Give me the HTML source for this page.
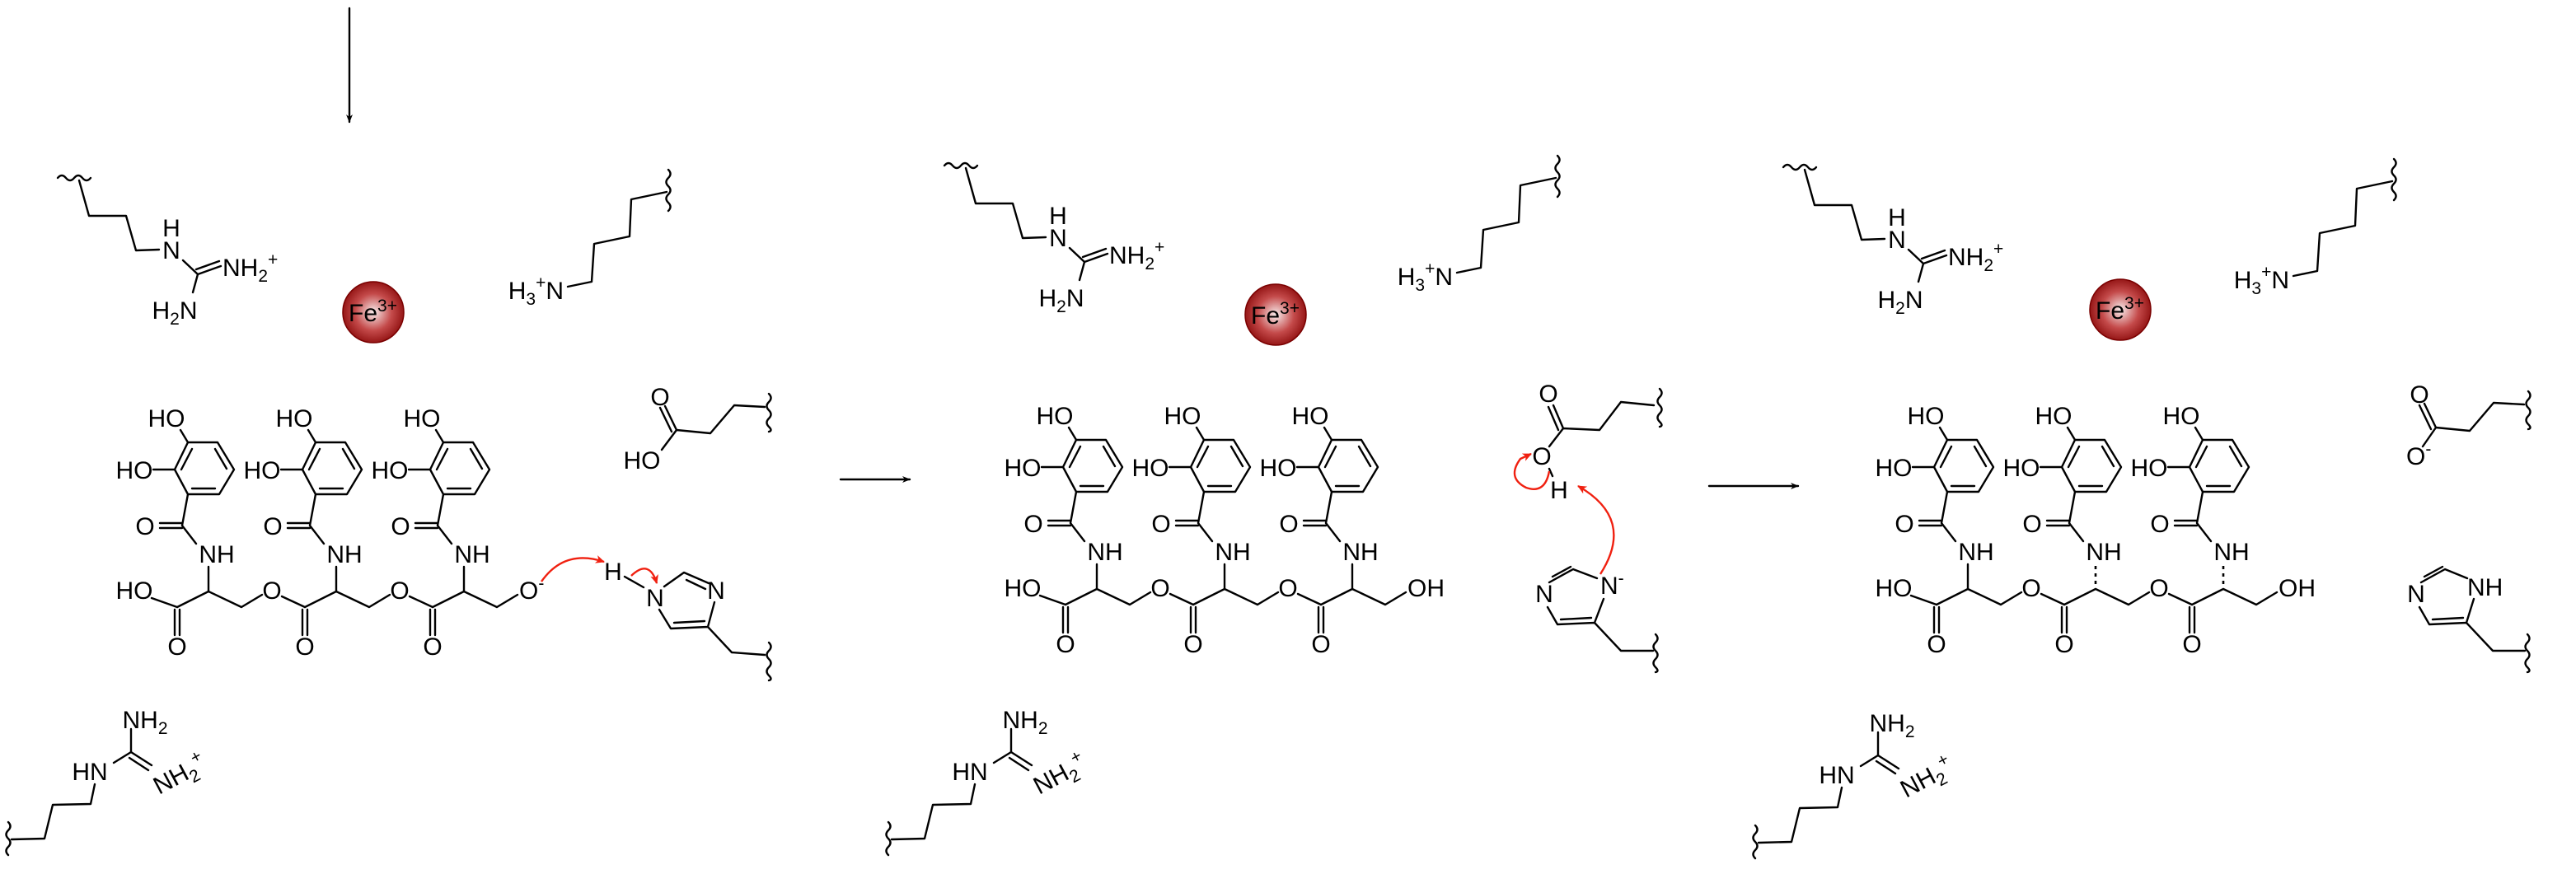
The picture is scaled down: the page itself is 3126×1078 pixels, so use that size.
<!DOCTYPE html>
<html><head><meta charset="utf-8"><style>
html,body{margin:0;padding:0;background:#fff;}
svg{display:block;}
text{font-family:"Liberation Sans",Arial,sans-serif;font-size:30px;fill:#000;}
.b{fill:none;stroke:#000;stroke-width:2.4;stroke-linecap:round;stroke-linejoin:round;}
.r{fill:none;stroke:#f02010;stroke-width:2.4;}
</style></head><body>
<svg width="3126" height="1078" viewBox="0 0 3126 1078" xmlns="http://www.w3.org/2000/svg">
<defs>
<radialGradient id="fe" cx="0.5" cy="0.5" r="0.55">
<stop offset="0" stop-color="#f8ecec"/><stop offset="0.55" stop-color="#c44a4a"/><stop offset="1" stop-color="#8a0a0a"/>
</radialGradient>
<marker id="ah" markerWidth="10" markerHeight="10" refX="9" refY="5" orient="auto" markerUnits="userSpaceOnUse"><path d="M0,1 L10,5 L0,9 L3,5 Z" fill="#000"/></marker>
<marker id="rh" markerWidth="12" markerHeight="10" refX="10" refY="5" orient="auto" markerUnits="userSpaceOnUse"><path d="M0,0 L11,5 L0,10 L3,5 Z" fill="#f02010"/></marker>
</defs>

<!-- arrows -->
<path class="b" d="M424,10 L424,148" marker-end="url(#ah)"/>
<path class="b" d="M1020,582 L1104,582" marker-end="url(#ah)"/>
<path class="b" d="M2074,590 L2182,590" marker-end="url(#ah)"/>

<!-- Fe balls -->
<g><circle cx="453" cy="379" r="37" fill="url(#fe)" stroke="#7a0000" stroke-width="1.5"/><text x="423" y="390">Fe<tspan font-size="21" dy="-12">3+</tspan></text></g>
<g><circle cx="1548" cy="382" r="37" fill="url(#fe)" stroke="#7a0000" stroke-width="1.5"/><text x="1518" y="393">Fe<tspan font-size="21" dy="-12">3+</tspan></text></g>
<g><circle cx="2573" cy="376" r="37" fill="url(#fe)" stroke="#7a0000" stroke-width="1.5"/><text x="2543" y="387">Fe<tspan font-size="21" dy="-12">3+</tspan></text></g>

<!-- top guanidines -->
<g transform="translate(0,0)">
<path class="b" d="M70,216 q5,-6 10,0 t10,0 t10,0 t10,0"/>
<path class="b" d="M96,219 L108,262 L153,262 L165,304 L193,303 M222,316 L240,333 M240,333 L268,323 M238,327 L266,317 M240,333 L234,355"/>
<text x="208" y="287" text-anchor="middle">H</text><text x="208" y="314" text-anchor="middle">N</text>
<text x="270" y="335">NH<tspan font-size="21" dy="7">2</tspan><tspan font-size="21" dy="-20">+</tspan></text>
<text x="212" y="387" text-anchor="middle">H<tspan font-size="21" dy="7">2</tspan><tspan dy="-7">N</tspan></text>
</g>
<g transform="translate(1076,-15)">
<path class="b" d="M70,216 q5,-6 10,0 t10,0 t10,0 t10,0"/>
<path class="b" d="M96,219 L108,262 L153,262 L165,304 L193,303 M222,316 L240,333 M240,333 L268,323 M238,327 L266,317 M240,333 L234,355"/>
<text x="208" y="287" text-anchor="middle">H</text><text x="208" y="314" text-anchor="middle">N</text>
<text x="270" y="335">NH<tspan font-size="21" dy="7">2</tspan><tspan font-size="21" dy="-20">+</tspan></text>
<text x="212" y="387" text-anchor="middle">H<tspan font-size="21" dy="7">2</tspan><tspan dy="-7">N</tspan></text>
</g>
<g transform="translate(2094,-13)">
<path class="b" d="M70,216 q5,-6 10,0 t10,0 t10,0 t10,0"/>
<path class="b" d="M96,219 L108,262 L153,262 L165,304 L193,303 M222,316 L240,333 M240,333 L268,323 M238,327 L266,317 M240,333 L234,355"/>
<text x="208" y="287" text-anchor="middle">H</text><text x="208" y="314" text-anchor="middle">N</text>
<text x="270" y="335">NH<tspan font-size="21" dy="7">2</tspan><tspan font-size="21" dy="-20">+</tspan></text>
<text x="212" y="387" text-anchor="middle">H<tspan font-size="21" dy="7">2</tspan><tspan dy="-7">N</tspan></text>
</g>

<!-- lysines -->
<g transform="translate(0,0)">
<path class="b" d="M811,206 q5,5 0,10 t0,10 t0,10 t0,10 t0,10"/>
<path class="b" d="M809,233 L766,242 L764,287 L721,296 L718,342 L689,348"/>
<text x="684" y="363" text-anchor="end">H<tspan font-size="21" dy="7">3</tspan><tspan font-size="21" dy="-20">+</tspan><tspan dy="13">N</tspan></text>
</g>
<g transform="translate(1079,-17)">
<path class="b" d="M811,206 q5,5 0,10 t0,10 t0,10 t0,10 t0,10"/>
<path class="b" d="M809,233 L766,242 L764,287 L721,296 L718,342 L689,348"/>
<text x="684" y="363" text-anchor="end">H<tspan font-size="21" dy="7">3</tspan><tspan font-size="21" dy="-20">+</tspan><tspan dy="13">N</tspan></text>
</g>
<g transform="translate(2094,-13)">
<path class="b" d="M811,206 q5,5 0,10 t0,10 t0,10 t0,10 t0,10"/>
<path class="b" d="M809,233 L766,242 L764,287 L721,296 L718,342 L689,348"/>
<text x="684" y="363" text-anchor="end">H<tspan font-size="21" dy="7">3</tspan><tspan font-size="21" dy="-20">+</tspan><tspan dy="13">N</tspan></text>
</g>

<!-- bottom guanidines -->
<g transform="translate(0,0)">
<path class="b" d="M10,998 q5,5 0,10 t0,10 t0,10 t0,10"/>
<path class="b" d="M14,1019 L54,1018 L64,977 L110,976 L115,952 M138,926 L159,913 L159,885 M159,913 L184,929 M157,920 L180,935"/>
<text x="176" y="884" text-anchor="middle">NH<tspan font-size="21" dy="7">2</tspan></text>
<text x="109" y="947" text-anchor="middle">HN</text>
<text transform="translate(193,965) rotate(-28)">NH<tspan font-size="21" dy="7">2</tspan><tspan font-size="21" dy="-20">+</tspan></text>
</g>
<g transform="translate(1068,0)">
<path class="b" d="M10,998 q5,5 0,10 t0,10 t0,10 t0,10"/>
<path class="b" d="M14,1019 L54,1018 L64,977 L110,976 L115,952 M138,926 L159,913 L159,885 M159,913 L184,929 M157,920 L180,935"/>
<text x="176" y="884" text-anchor="middle">NH<tspan font-size="21" dy="7">2</tspan></text>
<text x="109" y="947" text-anchor="middle">HN</text>
<text transform="translate(193,965) rotate(-28)">NH<tspan font-size="21" dy="7">2</tspan><tspan font-size="21" dy="-20">+</tspan></text>
</g>
<g transform="translate(2120,4)">
<path class="b" d="M10,998 q5,5 0,10 t0,10 t0,10 t0,10"/>
<path class="b" d="M14,1019 L54,1018 L64,977 L110,976 L115,952 M138,926 L159,913 L159,885 M159,913 L184,929 M157,920 L180,935"/>
<text x="176" y="884" text-anchor="middle">NH<tspan font-size="21" dy="7">2</tspan></text>
<text x="109" y="947" text-anchor="middle">HN</text>
<text transform="translate(193,965) rotate(-28)">NH<tspan font-size="21" dy="7">2</tspan><tspan font-size="21" dy="-20">+</tspan></text>
</g>

<!-- MAIN MOLECULE panel 1 -->
<g transform="translate(0,0)">
 <g transform="translate(0,0)">
  <path class="b" d="M228,537 L264,537 L284,570 L266,600 L228,600 L212,570 Z M233,545 L220,570 M261,545 L275,569 M233,593 L261,593 M228,537 L219,522 M186,570 L212,570 M228,600 L221,638 M194,635 L221,635 M194,641 L221,641 M221,638 L238,660 M253,688 L253,718 M253,718 L215,737 M253,718 L293,737 M293,737 L318,722 M212,740 L212,771 M218,740 L218,771 M342,724 L370,737"/>
  <text x="202" y="518" text-anchor="middle">HO</text><text x="163" y="581" text-anchor="middle">HO</text>
  <text x="176" y="649" text-anchor="middle">O</text><text x="263" y="683" text-anchor="middle">NH</text>
  <text x="215" y="795" text-anchor="middle">O</text><text x="330" y="727" text-anchor="middle">O</text>
 </g>
 <g transform="translate(155,0)">
  <path class="b" d="M228,537 L264,537 L284,570 L266,600 L228,600 L212,570 Z M233,545 L220,570 M261,545 L275,569 M233,593 L261,593 M228,537 L219,522 M186,570 L212,570 M228,600 L221,638 M194,635 L221,635 M194,641 L221,641 M221,638 L238,660 M253,688 L253,718 M253,718 L215,737 M253,718 L293,737 M293,737 L318,722 M212,740 L212,771 M218,740 L218,771 M342,724 L370,737"/>
  <text x="202" y="518" text-anchor="middle">HO</text><text x="163" y="581" text-anchor="middle">HO</text>
  <text x="176" y="649" text-anchor="middle">O</text><text x="263" y="683" text-anchor="middle">NH</text>
  <text x="215" y="795" text-anchor="middle">O</text><text x="330" y="727" text-anchor="middle">O</text>
 </g>
 <g transform="translate(310,0)">
  <path class="b" d="M228,537 L264,537 L284,570 L266,600 L228,600 L212,570 Z M233,545 L220,570 M261,545 L275,569 M233,593 L261,593 M228,537 L219,522 M186,570 L212,570 M228,600 L221,638 M194,635 L221,635 M194,641 L221,641 M221,638 L238,660 M253,688 L253,718 M253,718 L215,737 M253,718 L293,737 M293,737 L318,722 M212,740 L212,771 M218,740 L218,771"/>
  <text x="202" y="518" text-anchor="middle">HO</text><text x="163" y="581" text-anchor="middle">HO</text>
  <text x="176" y="649" text-anchor="middle">O</text><text x="263" y="683" text-anchor="middle">NH</text>
  <text x="215" y="795" text-anchor="middle">O</text>
 </g>
 <path class="b" d="M184,726 L215,737"/>
 <text x="163" y="727" text-anchor="middle">HO</text>
 <text x="630" y="727">O<tspan font-size="21" dy="-12">-</tspan></text>
</g>

<!-- MAIN panel 2 -->
<g transform="translate(1078,-3)">
 <g transform="translate(0,0)">
  <path class="b" d="M228,537 L264,537 L284,570 L266,600 L228,600 L212,570 Z M233,545 L220,570 M261,545 L275,569 M233,593 L261,593 M228,537 L219,522 M186,570 L212,570 M228,600 L221,638 M194,635 L221,635 M194,641 L221,641 M221,638 L238,660 M253,688 L253,718 M253,718 L215,737 M253,718 L293,737 M293,737 L318,722 M212,740 L212,771 M218,740 L218,771 M342,724 L370,737"/>
  <text x="202" y="518" text-anchor="middle">HO</text><text x="163" y="581" text-anchor="middle">HO</text>
  <text x="176" y="649" text-anchor="middle">O</text><text x="263" y="683" text-anchor="middle">NH</text>
  <text x="215" y="795" text-anchor="middle">O</text><text x="330" y="727" text-anchor="middle">O</text>
 </g>
 <g transform="translate(155,0)">
  <path class="b" d="M228,537 L264,537 L284,570 L266,600 L228,600 L212,570 Z M233,545 L220,570 M261,545 L275,569 M233,593 L261,593 M228,537 L219,522 M186,570 L212,570 M228,600 L221,638 M194,635 L221,635 M194,641 L221,641 M221,638 L238,660 M253,688 L253,718 M253,718 L215,737 M253,718 L293,737 M293,737 L318,722 M212,740 L212,771 M218,740 L218,771 M342,724 L370,737"/>
  <text x="202" y="518" text-anchor="middle">HO</text><text x="163" y="581" text-anchor="middle">HO</text>
  <text x="176" y="649" text-anchor="middle">O</text><text x="263" y="683" text-anchor="middle">NH</text>
  <text x="215" y="795" text-anchor="middle">O</text><text x="330" y="727" text-anchor="middle">O</text>
 </g>
 <g transform="translate(310,0)">
  <path class="b" d="M228,537 L264,537 L284,570 L266,600 L228,600 L212,570 Z M233,545 L220,570 M261,545 L275,569 M233,593 L261,593 M228,537 L219,522 M186,570 L212,570 M228,600 L221,638 M194,635 L221,635 M194,641 L221,641 M221,638 L238,660 M253,688 L253,718 M253,718 L215,737 M253,718 L293,737 M293,737 L318,722 M212,740 L212,771 M218,740 L218,771"/>
  <text x="202" y="518" text-anchor="middle">HO</text><text x="163" y="581" text-anchor="middle">HO</text>
  <text x="176" y="649" text-anchor="middle">O</text><text x="263" y="683" text-anchor="middle">NH</text>
  <text x="215" y="795" text-anchor="middle">O</text>
 </g>
 <path class="b" d="M184,726 L215,737"/>
 <text x="163" y="727" text-anchor="middle">HO</text>
 <text x="630" y="727">OH</text>
</g>

<!-- MAIN panel 3 -->
<g transform="translate(2135,-3)">
 <g transform="translate(0,0)">
  <path class="b" d="M228,537 L264,537 L284,570 L266,600 L228,600 L212,570 Z M233,545 L220,570 M261,545 L275,569 M233,593 L261,593 M228,537 L219,522 M186,570 L212,570 M228,600 L221,638 M194,635 L221,635 M194,641 L221,641 M221,638 L238,660 M253,688 L253,718 M253,718 L215,737 M253,718 L293,737 M293,737 L318,722 M212,740 L212,771 M218,740 L218,771 M342,724 L370,737"/>
  <text x="202" y="518" text-anchor="middle">HO</text><text x="163" y="581" text-anchor="middle">HO</text>
  <text x="176" y="649" text-anchor="middle">O</text><text x="263" y="683" text-anchor="middle">NH</text>
  <text x="215" y="795" text-anchor="middle">O</text><text x="330" y="727" text-anchor="middle">O</text>
 </g>
 <g transform="translate(155,0)">
  <path class="b" d="M228,537 L264,537 L284,570 L266,600 L228,600 L212,570 Z M233,545 L220,570 M261,545 L275,569 M233,593 L261,593 M228,537 L219,522 M186,570 L212,570 M228,600 L221,638 M194,635 L221,635 M194,641 L221,641 M221,638 L238,660 M253,718 L215,737 M253,718 L293,737 M293,737 L318,722 M212,740 L212,771 M218,740 L218,771 M342,724 L370,737"/>
  <path d="M253,690 L253,716" stroke="#000" stroke-width="2.6" stroke-dasharray="4,5" fill="none"/>
  <text x="202" y="518" text-anchor="middle">HO</text><text x="163" y="581" text-anchor="middle">HO</text>
  <text x="176" y="649" text-anchor="middle">O</text><text x="263" y="683" text-anchor="middle">NH</text>
  <text x="215" y="795" text-anchor="middle">O</text><text x="330" y="727" text-anchor="middle">O</text>
 </g>
 <g transform="translate(310,0)">
  <path class="b" d="M228,537 L264,537 L284,570 L266,600 L228,600 L212,570 Z M233,545 L220,570 M261,545 L275,569 M233,593 L261,593 M228,537 L219,522 M186,570 L212,570 M228,600 L221,638 M194,635 L221,635 M194,641 L221,641 M221,638 L238,660 M253,718 L215,737 M253,718 L293,737 M293,737 L318,722 M212,740 L212,771 M218,740 L218,771"/>
  <path d="M253,690 L253,716" stroke="#000" stroke-width="2.6" stroke-dasharray="4,5" fill="none"/>
  <text x="202" y="518" text-anchor="middle">HO</text><text x="163" y="581" text-anchor="middle">HO</text>
  <text x="176" y="649" text-anchor="middle">O</text><text x="263" y="683" text-anchor="middle">NH</text>
  <text x="215" y="795" text-anchor="middle">O</text>
 </g>
 <path class="b" d="M184,726 L215,737"/>
 <text x="163" y="727" text-anchor="middle">HO</text>
 <text x="630" y="727">OH</text>
</g>

<!-- Glu panel 1 -->
<path class="b" d="M821,522 L807,493 M815,524 L801,495 M821,522 L803,546 M821,522 L862,526 L891,492 L928,494"/>
<path class="b" d="M933,478 q5,5 0,10 t0,10 t0,10 t0,10 t0,6"/>
<text x="801" y="492" text-anchor="middle">O</text>
<text x="779" y="569" text-anchor="middle">HO</text>

<!-- His panel 1 -->
<text x="744" y="704" text-anchor="middle">H</text>
<text x="795" y="736" text-anchor="middle">N</text>
<text x="869" y="727" text-anchor="middle">N</text>
<path class="b" d="M758,700 L781,713 M806,712 L830,695 L860,708 M833,704 L856,715 M867,731 L859,761 L814,763 L800,740 M855,754 L818,756 M859,761 L888,792 L928,795"/>
<path class="b" d="M933,780 q5,5 0,10 t0,10 t0,10 t0,10 t0,6"/>
<path class="r" d="M657,706 Q685,666 733,682" marker-end="url(#rh)"/>
<path class="r" d="M766,699 Q788,678 797,708" marker-end="url(#rh)"/>

<!-- Glu panel 2 -->
<path class="b" d="M1897,520 L1885,492 M1891,522 L1879,494 M1897,520 L1880,542 M1897,520 L1941,522 L1967,488 L2007,492"/>
<path class="b" d="M2014,472 q5,5 0,10 t0,10 t0,10 t0,10 t0,6"/>
<text x="1879" y="488" text-anchor="middle">O</text>
<text x="1871" y="564" text-anchor="middle">O</text>
<text x="1892" y="605" text-anchor="middle">H</text>
<path class="b" d="M1880,569 L1884,578"/>
<!-- His panel 2 -->
<text x="1874" y="731" text-anchor="middle">N</text>
<text x="1942" y="721">N<tspan font-size="21" dy="-12">-</tspan></text>
<path class="b" d="M1880,707 L1909,691 L1938,702 M1884,700 L1906,688 M1946,727 L1935,756 L1890,758 L1878,737 M1931,750 L1894,752 M1935,756 L1967,790 L2006,790"/>
<path class="b" d="M2009,770 q5,5 0,10 t0,10 t0,10 t0,10 t0,6"/>
<path class="r" d="M1942,697 Q1985,630 1915,590" marker-end="url(#rh)"/>
<path class="r" d="M1880,572 Q1875,600 1852,592 Q1828,580 1845,557 L1858,551" marker-end="url(#rh)"/>

<!-- Glu panel 3 -->
<path class="b" d="M2956,519 L2942,490 M2950,521 L2936,492 M2956,519 L2940,542 M2956,519 L2997,523 L3026,489 L3063,491"/>
<path class="b" d="M3068,475 q5,5 0,10 t0,10 t0,10 t0,10 t0,6"/>
<text x="2936" y="489" text-anchor="middle">O</text>
<text x="2920" y="564">O<tspan font-size="21" dy="-12">-</tspan></text>
<!-- His panel 3 -->
<text x="2932" y="731" text-anchor="middle">N</text>
<text x="2994" y="723">NH</text>
<path class="b" d="M2938,707 L2967,691 L2994,702 M2942,700 L2964,688 M3002,727 L2993,756 L2948,758 L2936,737 M2989,750 L2952,752 M2993,756 L3025,790 L3064,790"/>
<path class="b" d="M3067,770 q5,5 0,10 t0,10 t0,10 t0,10 t0,6"/>
</svg>
</body></html>
